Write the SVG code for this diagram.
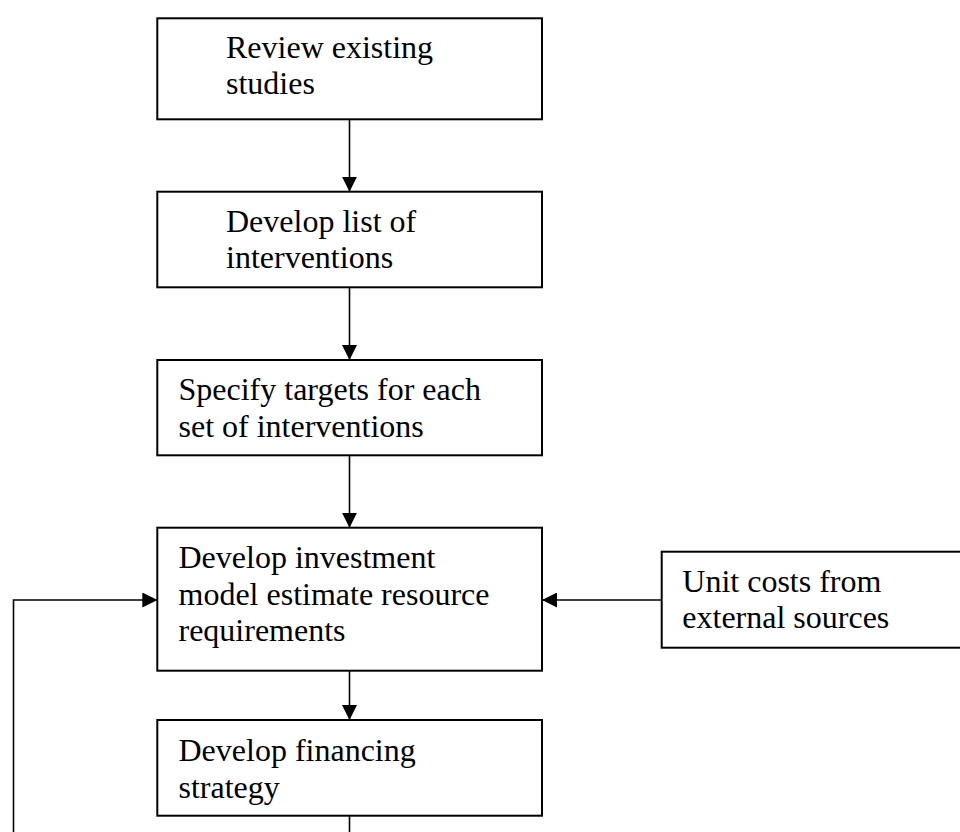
<svg xmlns="http://www.w3.org/2000/svg" width="960" height="832" viewBox="0 0 960 832">
<style>
.box{fill:#fff;stroke:#000;stroke-width:2}
.t{font-family:"Liberation Serif","Times New Roman",serif;font-size:32px;fill:#000}
.c{fill:none;stroke:#000;stroke-width:1.6}
</style>
<defs>
<marker id="ah" markerUnits="userSpaceOnUse" markerWidth="15" markerHeight="15" refX="15" refY="7.5" orient="auto" viewBox="0 0 15 15">
<path d="M0,0 L15,7.5 L0,15 z" fill="#000"/>
</marker>
</defs>
<rect width="960" height="832" fill="#fff"/>
<g id="connectors">
<line class="c" x1="349.5" y1="119.3" x2="349.5" y2="191.7" marker-end="url(#ah)"/>
<line class="c" x1="349.5" y1="287.3" x2="349.5" y2="360" marker-end="url(#ah)"/>
<line class="c" x1="349.5" y1="455.3" x2="349.5" y2="527.7" marker-end="url(#ah)"/>
<line class="c" x1="349.5" y1="670.7" x2="349.5" y2="720" marker-end="url(#ah)"/>
<line class="c" x1="661.7" y1="600" x2="542" y2="600" marker-end="url(#ah)"/>
<line class="c" x1="349.5" y1="815.7" x2="349.5" y2="840"/>
<polyline class="c" points="13.5,840 13.5,600 157.3,600" marker-end="url(#ah)"/>
</g>
<g id="review">
<rect class="box" x="157.3" y="18.3" width="384.7" height="101"/>
<text class="t" x="226" y="57.7">Review existing</text>
<text class="t" x="226" y="94">studies</text>
</g>
<g id="list">
<rect class="box" x="157.3" y="191.7" width="384.7" height="95.6"/>
<text class="t" x="226" y="231.7">Develop list of</text>
<text class="t" x="226" y="268">interventions</text>
</g>
<g id="targets">
<rect class="box" x="157.3" y="360" width="384.7" height="95.3"/>
<text class="t" x="178.5" y="400">Specify targets for each</text>
<text class="t" x="178.5" y="436.5">set of interventions</text>
</g>
<g id="model">
<rect class="box" x="157.3" y="527.7" width="384.7" height="143"/>
<text class="t" x="178.5" y="567.7">Develop investment</text>
<text class="t" x="178.5" y="604.5">model estimate resource</text>
<text class="t" x="178.5" y="641.3">requirements</text>
</g>
<g id="financing">
<rect class="box" x="157.3" y="720" width="384.7" height="95.7"/>
<text class="t" x="178.5" y="761">Develop financing</text>
<text class="t" x="178.5" y="797.5">strategy</text>
</g>
<g id="unitcosts">
<rect class="box" x="661.7" y="551.7" width="310" height="96"/>
<text class="t" x="682.3" y="591.7">Unit costs from</text>
<text class="t" x="682.3" y="627.5">external sources</text>
</g>
</svg>
